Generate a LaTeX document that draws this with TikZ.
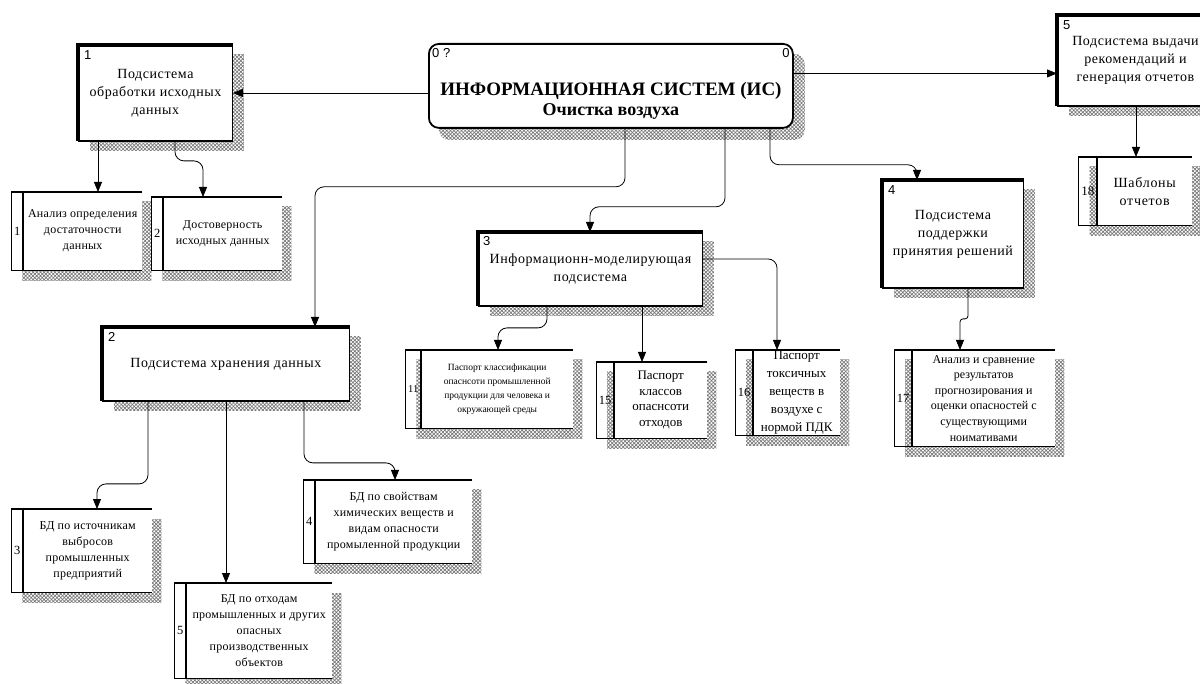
\documentclass[tikz,border=0pt]{standalone}
\usepackage{fontspec}
\setmainfont{Liberation Serif}
\setsansfont{Liberation Sans}
\usepackage{xcolor}
\usetikzlibrary{arrows.meta, positioning, calc, patterns.meta, backgrounds}
\definecolor{idefInk}{RGB}{0,0,0}
\definecolor{idefHatch}{RGB}{120,120,120}

\begin{document}
\begin{tikzpicture}[x=1pt, y=-1pt,
    proc/.style={draw=idefInk, line width=0.9pt, fill=white, anchor=north west, align=center,
      inner sep=2pt, font=\fontsize{14}{18}\selectfont\addfontfeature{LetterSpace=4}},
    store/.style={fill=white, anchor=north west, align=center, inner sep=1pt,
      font=\fontsize{12}{16}\selectfont\addfontfeature{LetterSpace=2}},
    sid/.style={inner xsep=2.5pt, inner ysep=0pt, font=\fontsize{12.5}{14}\selectfont},
    num/.style={anchor=north west, inner sep=0pt, font=\sffamily\fontsize{13}{13}\selectfont},
    title/.style={align=center, font=\bfseries\fontsize{19}{20}\selectfont},
    heavy/.style={line width=4.5pt, draw=idefInk},
    wall/.style={line width=1.1pt, draw=idefInk},
    arrow/.style={-{Triangle[length=10pt,width=8pt]}, line width=0.8pt, draw=idefInk, rounded corners=9pt},
    hatch/.style={pattern={Hatch[angle=45,distance=2.6pt,line width=0.7pt]}, pattern color=idefHatch}
  ]
  \useasboundingbox (0,0) rectangle (1200,684);

  % context
  \node[proc, rounded corners=10pt, line width=1.8pt, minimum width=364pt, minimum height=84pt,
    label={[num, xshift=4pt, yshift=-5pt]north west:0 ?},
    label={[num, anchor=north east, xshift=-4pt, yshift=-5pt]north east:0}] (main) at (428,43) {};
  \node[title] (title) at ([yshift=-15pt]main.center)
    {ИНФОРМАЦИОННАЯ СИСТЕМ (ИС)\\{\fontsize{18}{20}\selectfont Очистка воздуха}};

  % subsystems
  \node[proc, minimum width=154pt, minimum height=95pt,
    label={[num, xshift=6pt, yshift=-5pt]north west:1}] (sub1) at (78,45)
    {Подсистема\\обработки исходных\\данных};
  \node[proc, minimum width=247pt, minimum height=73pt,
    label={[num, xshift=6pt, yshift=-5pt]north west:2}] (sub2) at (102,327)
    {Подсистема хранения данных};
  \node[proc, minimum width=224pt, minimum height=73pt,
    label={[num, xshift=5pt, yshift=-4pt]north west:3}] (sub3) at (478,232)
    {Информационн-моделирующая\\подсистема};
  \node[proc, minimum width=141pt, minimum height=107pt,
    label={[num, xshift=6pt, yshift=-5pt]north west:4}] (sub4) at (882,180)
    {Подсистема\\поддержки\\принятия решений};
  \node[proc, minimum width=156pt, minimum height=90pt,
    label={[num, xshift=6pt, yshift=-5pt]north west:5}] (sub5) at (1057,15)
    {Подсистема выдачи\\рекомендаций и\\генерация отчетов};

  % data stores
  \node[store, minimum width=119pt, minimum height=78pt] (st1) at (23,192)
    {Анализ определения\\достаточности\\данных};
  \node[sid, left=0pt of st1] (n-st1) {1};
  \node[store, minimum width=119pt, minimum height=73pt] (st2) at (163,197)
    {Достоверность\\исходных данных};
  \node[sid, left=0pt of st2] (n-st2) {2};
  \node[store, minimum width=129pt, minimum height=83pt] (st3) at (23,509)
    {БД по источникам\\выбросов\\промышленных\\предприятий};
  \node[sid, left=0pt of st3] (n-st3) {3};
  \node[store, minimum width=157pt, minimum height=83pt] (st4) at (315,480)
    {БД по свойствам\\химических веществ и\\видам опасности\\промыленной продукции};
  \node[sid, left=0pt of st4] (n-st4) {4};
  \node[store, minimum width=146pt, minimum height=95pt] (st5) at (186,583)
    {БД по отходам\\промышленных и других\\опасных\\производственных\\объектов};
  \node[sid, left=0pt of st5] (n-st5) {5};
  \node[store, minimum width=152pt, minimum height=78pt, font=\fontsize{9.5}{13.7}\selectfont] (st11) at (421,350)
    {Паспорт классификации\\опаснсоти промышленной\\продукции для человека и\\окружающей среды};
  \node[sid, left=0pt of st11, font=\fontsize{10.5}{12}\selectfont] (n-st11) {11};
  \node[store, minimum width=93pt, minimum height=76pt, font=\fontsize{13}{15.5}\selectfont] (st15) at (614,362)
    {Паспорт\\классов\\опаснсоти\\отходов};
  \node[sid, left=0pt of st15] (n-st15) {15};
  \node[store, minimum width=87pt, minimum height=78pt, font=\fontsize{13}{18}\selectfont] (st16) at (753,350)
    {Паспорт\\токсичных\\веществ в\\воздухе с\\нормой ПДК};
  \node[sid, left=0pt of st16] (n-st16) {16};
  \node[store, minimum width=143pt, minimum height=96pt, font=\fontsize{12}{15.6}\selectfont] (st17) at (912,350)
    {Анализ и сравнение\\результатов\\прогнозирования и\\оценки опасностей с\\существующими\\ноимативами};
  \node[sid, left=0pt of st17] (n-st17) {17};
  \node[store, minimum width=95pt, minimum height=68pt, font=\fontsize{14}{18}\selectfont\addfontfeature{LetterSpace=5}] (st18) at (1097,157)
    {Шаблоны\\отчетов};
  \node[sid, left=0pt of st18, font=\fontsize{13}{14}\selectfont] (n-st18) {18};

  \foreach \s in {st1,st2,st3,st4,st5,st11,st15,st16,st17,st18}
    \draw[wall] (\s.north east) -- (\s.north -| n-\s.west) -- (\s.south -| n-\s.west) -- (\s.south east)
      (\s.north west) -- (\s.south west);

  \foreach \b in {sub1,sub2,sub3,sub4,sub5} {
    \draw[heavy] (\b.south west) -- (\b.north west) -- (\b.north east);
    \draw[line width=2.5pt] (\b.south west) -- (\b.south east);
  }

  % shadows
  \begin{scope}[on background layer]
    \fill[hatch, rounded corners=10pt] ([shift={(11pt,-11pt)}]main.north west) rectangle ([shift={(11pt,-11pt)}]main.south east);
    \foreach \b in {sub1,sub2,sub3,sub4,sub5}
      \fill[hatch] ([shift={(12pt,-10pt)}]\b.north west) rectangle ([shift={(11pt,-10pt)}]\b.south east);
    \foreach \s in {st1,st2,st3,st4,st5,st11,st15,st16,st17,st18}
      \fill[hatch] ($(\s.north -| n-\s.west)+(11pt,-10pt)$) rectangle ([shift={(9pt,-10pt)}]\s.south east);
  \end{scope}

  % links
  \coordinate (in5) at ([yshift=-13pt]sub5.west);
  \draw[arrow] (main.west |- sub1.east) -- (sub1.east);
  \draw[arrow] (main.east |- in5) -- (in5);
  \draw[arrow] ([xshift=197pt]main.south west) -- ++(0,58) -| ([xshift=213pt]sub2.north west);
  \draw[arrow] ([xshift=297pt]main.south west) -- ++(0,78) -| ([xshift=112pt]sub3.north west);
  \draw[arrow] ([xshift=342pt]main.south west) -- ++(0,36) -| ([xshift=35pt]sub4.north west);

  \draw[arrow] ([xshift=20pt]sub1.south west) -- ([xshift=75pt]st1.north west);
  \draw[arrow] ([xshift=97pt]sub1.south west) -- ++(0,20) -| ([xshift=40pt]st2.north west);
  \draw[arrow] ([xshift=79pt]sub5.south west) -- ([xshift=39pt]st18.north west);

  \draw[arrow] ([xshift=46pt]sub2.south west) -- ++(0,83) -| ([xshift=74pt]st3.north west);
  \draw[arrow] ([xshift=124pt]sub2.south west) -- ([xshift=40pt]st5.north west);
  \draw[arrow] ([xshift=202pt]sub2.south west) -- ++(0,62) -| ([xshift=80pt]st4.north west);

  \draw[arrow] ([xshift=69pt]sub3.south west) -- ++(0,22) -| ([xshift=77pt]st11.north west);
  \draw[arrow] ([xshift=164pt]sub3.south west) -- ([xshift=28pt]st15.north west);
  \draw[arrow] ([yshift=10pt]sub3.east) -| ([xshift=24pt]st16.north west);

  \draw[arrow, rounded corners=3pt] ([xshift=86pt]sub4.south west) -- ++(0,31) -| ([xshift=48pt]st17.north west);
\end{tikzpicture}
\end{document}
